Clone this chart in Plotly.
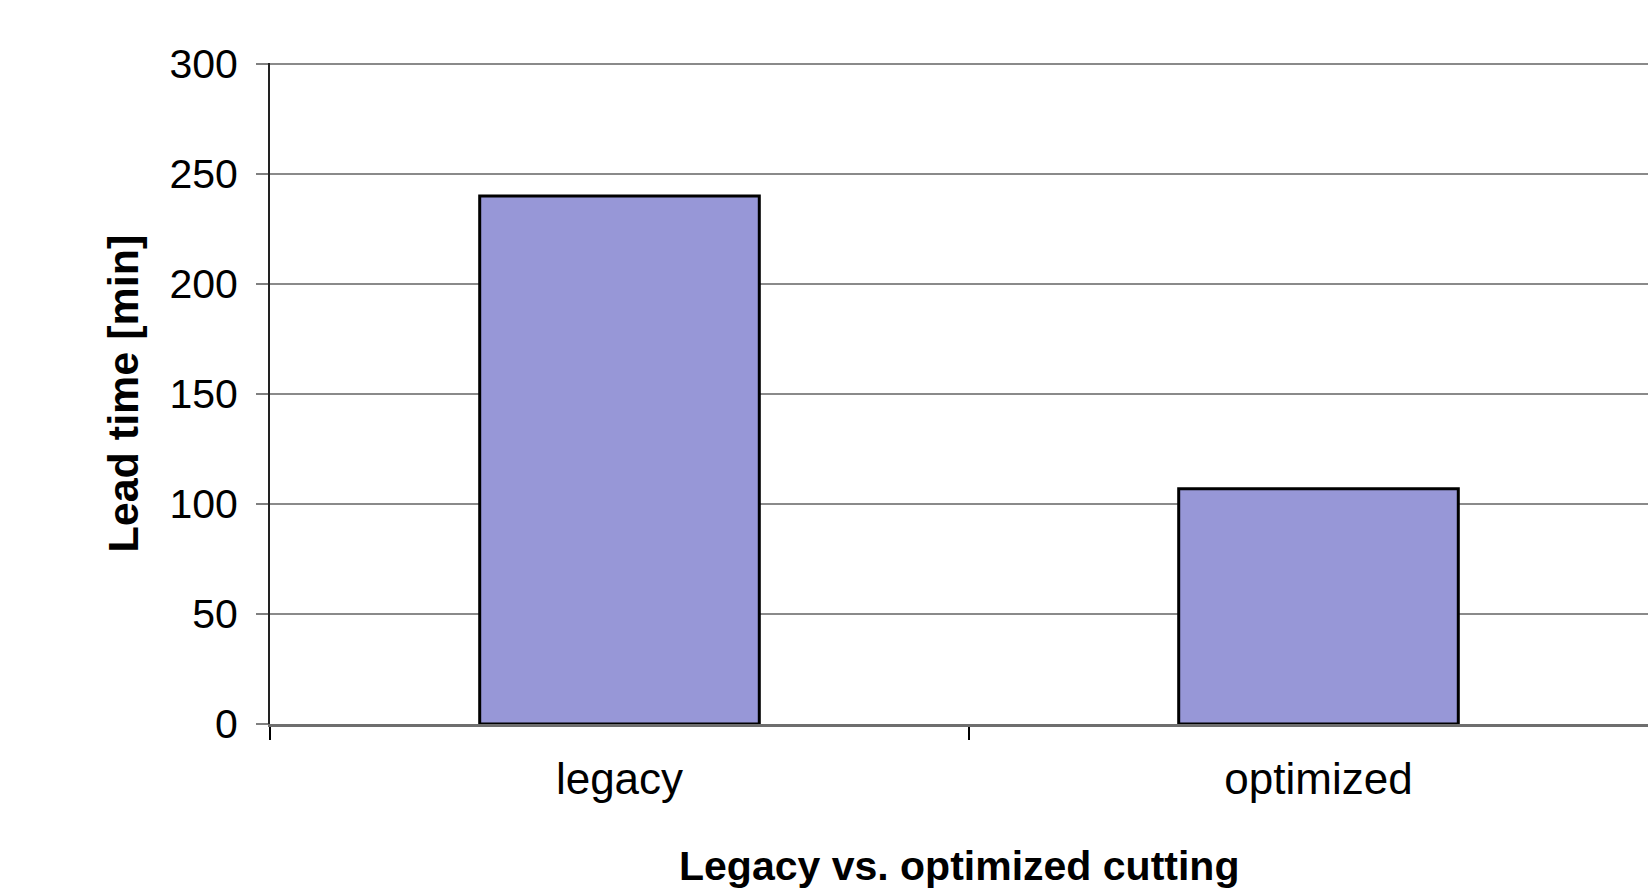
import plotly.graph_objects as go

# Lead time per cutting method
methods = ["legacy", "optimized"]
lead_time_min = [240, 107]

y_ticks = [0, 50, 100, 150, 200, 250, 300]

FONT = "Liberation Sans, Arial, sans-serif"

fig = go.Figure(
    go.Bar(
        x=methods,
        y=lead_time_min,
        marker=dict(color="#9797d7", line=dict(color="#000000", width=3)),
        width=0.4,
        hoverinfo="x+y",
    )
)

W, H = 1648, 888
ml, mt, mb = 270, 63, 164
cat_px = 699  # pixel width of one category slot
plot_w = W - ml
plot_h = H - mt - mb

fig.update_layout(
    width=W,
    height=H,
    margin=dict(l=ml, r=0, t=mt, b=mb, pad=0),
    paper_bgcolor="white",
    plot_bgcolor="white",
    showlegend=False,
    font=dict(family=FONT, color="black"),
    xaxis=dict(
        type="category",
        range=[-0.5, -0.5 + plot_w / cat_px],
        tickson="boundaries",
        ticks="outside",
        ticklen=13,
        tickwidth=1.5,
        tickcolor="black",
        tickfont=dict(size=44, family=FONT, color="black"),
        ticklabelstandoff=14,
        showgrid=False,
        showline=True,
        linecolor="#6e6e6e",
        linewidth=3,
        zeroline=False,
    ),
    yaxis=dict(
        # a hair above 300 so the top gridline is drawn
        range=[0, 300.5],
        tickvals=y_ticks,
        ticks="outside",
        ticklen=12,
        tickwidth=1.5,
        tickcolor="#808080",
        tickfont=dict(size=41, family=FONT, color="black"),
        showgrid=True,
        gridcolor="#8a8a8a",
        gridwidth=1.5,
        showline=True,
        linecolor="#222222",
        linewidth=2,
        zeroline=False,
        ticklabelstandoff=10,
    ),
    annotations=[
        dict(
            text="<b>Lead time [min]</b>",
            xref="paper", yref="paper",
            x=(122 - ml) / plot_w, y=0.5,
            xanchor="center", yanchor="middle",
            textangle=-90,
            showarrow=False,
            font=dict(size=43, family=FONT, color="black"),
        ),
        dict(
            text="<b>Legacy vs. optimized cutting</b>",
            xref="paper", yref="paper",
            x=(959 - ml) / plot_w, y=(H - mb - 866) / plot_h,
            xanchor="center", yanchor="middle",
            showarrow=False,
            font=dict(size=41, family=FONT, color="black"),
        ),
    ],
)

fig.write_html("out.html")
